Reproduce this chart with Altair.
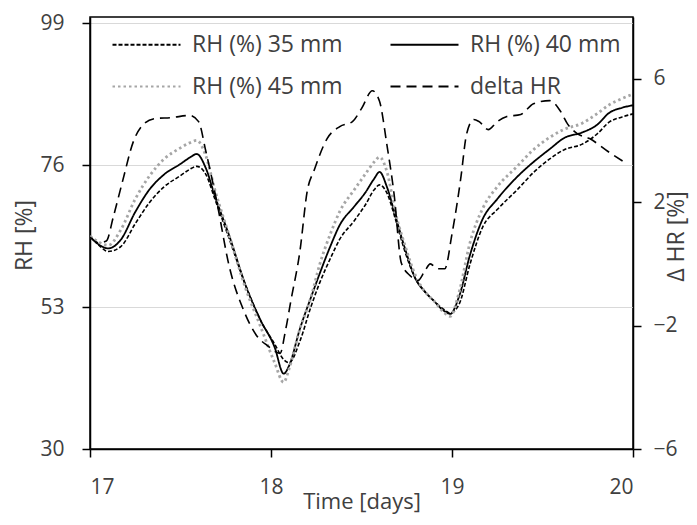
import altair as alt
import pandas as pd

# ---- data ----
t_rh = [17.0, 17.05, 17.1, 17.17, 17.25, 17.33, 17.41, 17.5, 17.55, 17.59, 17.64, 17.69,
        17.77, 17.86, 17.94, 18.02, 18.07, 18.1, 18.16, 18.22, 18.27, 18.33, 18.38, 18.46,
        18.52, 18.57, 18.6, 18.64, 18.69, 18.74, 18.8, 18.85, 18.9, 18.96, 18.99,
        19.04, 19.1, 19.17, 19.25, 19.36, 19.45, 19.54, 19.62, 19.72, 19.8, 19.87, 19.94, 20.0]

rh35 = [64.5, 63.0, 62.0, 62.8, 66.5, 70.0, 72.5, 74.3, 75.3, 75.8, 74.5, 70.5,
        64.0, 56.5, 51.0, 47.0, 44.5, 44.0, 47.5, 53.0, 57.0, 61.0, 64.0, 67.0,
        69.5, 72.0, 72.8, 71.5, 67.0, 62.0, 57.5, 55.5, 54.0, 52.5, 52.0,
        53.5, 60.0, 66.0, 68.8, 72.0, 74.8, 77.0, 78.5, 79.4, 81.0, 83.0, 83.8, 84.3]

rh40 = [64.4, 63.1, 62.5, 63.9, 68.4, 72.1, 74.5, 76.2, 77.2, 77.8, 75.5, 71.0,
        64.5, 56.5, 51.0, 46.5, 42.2, 43.5, 49.5, 54.5, 58.5, 63.0, 66.3, 69.3,
        71.5, 73.8, 74.9, 72.5, 67.5, 62.5, 57.5, 55.5, 54.0, 52.3, 51.9,
        54.8, 61.5, 67.3, 70.5, 74.1, 76.5, 78.6, 80.4, 81.3, 82.5, 84.5, 85.3, 85.7]

rh45 = [64.5, 63.5, 63.0, 65.5, 70.5, 74.3, 77.0, 78.8, 79.6, 80.0, 77.5, 72.0,
        64.5, 56.0, 50.0, 44.0, 40.8, 43.0, 49.5, 54.5, 60.0, 65.0, 68.5, 72.0,
        74.5, 76.5, 77.3, 75.0, 68.0, 63.0, 58.0, 55.5, 54.0, 52.0, 51.5,
        55.5, 63.5, 69.0, 72.5, 75.8, 78.5, 80.5, 81.8, 82.8, 84.3, 85.8, 86.8, 87.5]

t_delta = [17.0, 17.05, 17.09, 17.13, 17.18, 17.24, 17.3, 17.36, 17.45, 17.55, 17.6, 17.64,
           17.7, 17.77, 17.85, 17.92, 17.98, 18.05, 18.08, 18.11, 18.16, 18.2, 18.24, 18.31,
           18.38, 18.45, 18.5, 18.56, 18.6, 18.64, 18.68, 18.72, 18.77, 18.81, 18.85, 18.88,
           18.92, 18.96, 19.0, 19.03, 19.05, 19.08, 19.12, 19.15, 19.2, 19.25, 19.3, 19.38,
           19.45, 19.54, 19.6, 19.64, 19.69, 19.76, 19.86, 19.97]

delta_hr = [0.87, 0.68, 0.74, 1.55, 2.68, 3.97, 4.55, 4.71, 4.74, 4.81, 4.61, 3.65,
            2.03, -0.1, -1.52, -2.32, -2.65, -2.9, -2.16, -1.19, 0.42, 2.35, 3.06, 4.06,
            4.45, 4.61, 5.03, 5.61, 5.26, 3.87, 2.26, 0.03, -0.39, -0.55, -0.23, 0.0,
            -0.16, -0.16, 0.97, 2.03, 2.84, 4.19, 4.68, 4.61, 4.35, 4.61, 4.77, 4.84,
            5.19, 5.29, 4.94, 4.52, 4.23, 4.06, 3.65, 3.23]

series_names = ["RH (%) 35 mm", "RH (%) 40 mm", "RH (%) 45 mm", "delta HR"]
x_ticks = [17, 18, 19, 20]
rh_ticks = [30, 53, 76, 99]
delta_ticks = [-6, -2, 2, 6]

FONT = "Open Sans"
TXT = "#404040"

legend = alt.Legend(
    title=None, orient="none", legendX=27, legendY=-2, columns=2, direction="horizontal",
    symbolType="M-1.193,0H1.193", symbolSize=3249, symbolStrokeWidth=1.8,
    labelFontSize=23, labelFont=FONT, labelColor=TXT, labelOffset=16,
    columnPadding=43, rowPadding=0, padding=0,
)
color = alt.Color(
    "series:N",
    scale=alt.Scale(domain=series_names, range=["black", "black", "#a6a6a6", "black"]),
    legend=legend,
)
dash = alt.StrokeDash(
    "series:N",
    scale=alt.Scale(domain=series_names, range=[[4, 2], [1, 0], [2.5, 3], [10, 6]]),
    legend=legend,
)

x_enc = alt.X(
    "t:Q",
    scale=alt.Scale(domain=[17, 20], nice=False, zero=False),
    axis=alt.Axis(values=x_ticks, title="Time [days]", grid=False, labelPadding=19,
                  titleY=52, titleBaseline="middle", titleFontSize=22, format="d"),
)

y_rh = alt.Y(
    "v:Q",
    scale=alt.Scale(domain=[30, 100], nice=False, zero=False),
    axis=alt.Axis(values=rh_ticks, orient="left", grid=True, gridColor="#d9d9d9",
                  gridWidth=1, title="RH [%]", labelPadding=18,
                  titleAngle=270, titleX=-66, titleY=218, titleBaseline="middle",
                  titleAlign="center"),
)

y_d = alt.Y(
    "v:Q",
    scale=alt.Scale(domain=[-6, 8], nice=False, zero=False),
    axis=alt.Axis(values=delta_ticks, orient="right", grid=False, title="Δ HR [%]",
                  labelPadding=12, labelAlign="left",
                  titleAngle=270, titleX=43, titleY=219, titleBaseline="middle",
                  titleAlign="center"),
)


def frame(t, v, name):
    return pd.DataFrame({"t": t, "v": v, "series": name})


def line(df, sw):
    return alt.Chart(df).mark_line(strokeWidth=sw, clip=True, interpolate="monotone").encode(
        x=x_enc, y=y_rh, color=color, strokeDash=dash
    )


l35 = line(frame(t_rh, rh35, series_names[0]), 1.6)
l40 = line(frame(t_rh, rh40, series_names[1]), 1.8)
l45 = line(frame(t_rh, rh45, series_names[2]), 2.8)
ld = alt.Chart(frame(t_delta, delta_hr, series_names[3])).mark_line(
    strokeWidth=1.6, clip=True, interpolate="monotone"
).encode(x=x_enc, y=y_d, color=color, strokeDash=dash)

rh_layer = alt.layer(l35, l40, l45)

chart = (
    alt.layer(rh_layer, ld)
    .resolve_scale(y="independent")
    .properties(
        width=543, height=432,
        autosize=alt.AutoSizeParams(type="none"),
        padding={"left": 82, "top": 9, "right": 56, "bottom": 68},
        background="white",
    )
    .configure_view(stroke="black", strokeWidth=1.5)
    .configure_axis(
        labelFont=FONT, labelFontSize=21, labelColor=TXT,
        titleFont=FONT, titleFontSize=23, titleColor=TXT, titleFontWeight="normal",
        domainColor="black", domainWidth=1.5, tickColor="black", tickWidth=1.5,
        tickSize=8,
    )
)

chart.save("out.html", embed_options={"renderer": "svg", "actions": False})
